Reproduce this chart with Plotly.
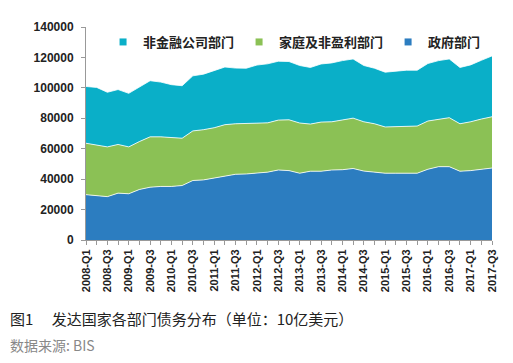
import plotly.graph_objects as go

quarters = [f"{y}-Q{q}" for y in range(2008, 2018) for q in range(1, 5)][:39]

gov = [29800, 29100, 28500, 30800, 30400, 33200, 34700, 35200, 35200, 35800,
       39100, 39500, 40800, 42100, 43200, 43400, 43900, 44600, 46000, 45600,
       43900, 45200, 45200, 46000, 46200, 47000, 45300, 44700, 43900, 43900,
       43900, 43900, 46500, 48200, 48200, 45200, 45600, 46500, 47300]
green_cum = [63600, 62500, 61200, 62800, 61200, 64700, 67800, 67800, 67300, 66900,
             71700, 72500, 73800, 75800, 76400, 76400, 76800, 77000, 78800, 79000,
             76900, 76200, 77500, 77700, 78800, 80100, 77700, 76400, 74300, 74500,
             74900, 74900, 78200, 79500, 80400, 76400, 77700, 79500, 81000]
top_cum = [100900, 100300, 97100, 98900, 96400, 100300, 104700, 103800, 102100, 101400,
           107900, 109000, 111300, 113700, 113000, 112900, 115000, 115800, 117500, 117300,
           114700, 113400, 115700, 116400, 117900, 119000, 114700, 112900, 110300, 111000,
           111600, 111600, 116000, 117900, 119000, 113400, 115100, 118100, 121000]
household = [g - v for g, v in zip(green_cum, gov)]
corporate = [t - g for t, g in zip(top_cum, green_cum)]

names = ["政府部门", "家庭及非盈利部门", "非金融公司部门"]
colors = ["#2C7DC0", "#8BC155", "#0AAFC8"]
series = [gov, household, corporate]

tick_vals = quarters
tick_text = [q if i % 2 == 0 else "" for i, q in enumerate(quarters)]
y_ticks = [0, 20000, 40000, 60000, 80000, 100000, 120000, 140000]

fig = go.Figure()
for name, col, vals in zip(names, colors, series):
    fig.add_trace(go.Scatter(
        x=quarters, y=vals, stackgroup="one", mode="lines",
        line=dict(color="rgba(255,255,255,0.8)", width=1),
        fillcolor=col, showlegend=False, hoverinfo="skip"))
for name, col in zip(names, colors):
    fig.add_trace(go.Scatter(
        x=[None], y=[None], mode="markers", name=name,
        marker=dict(symbol="square", size=7, color=col)))

# page has an 8px body margin, so the figure is laid out 8px smaller
fig.update_layout(
    width=505, height=355,
    margin=dict(l=78, r=21, t=17, b=123),
    paper_bgcolor="white", plot_bgcolor="white",
    font=dict(family="Liberation Sans, Arial, sans-serif", color="#222"),
    legend=dict(orientation="h", x=0.042, y=1.0, xanchor="left", yanchor="top",
                traceorder="reversed", bgcolor="rgba(0,0,0,0)",
                font=dict(family="Noto Sans CJK SC", size=13, color="#222", weight="bold"),
                itemwidth=30),
    xaxis=dict(type="category", range=[0, 38], tickmode="array",
               tickvals=tick_vals, ticktext=tick_text, tickangle=-90,
               showgrid=False, showline=True, linecolor="#999", linewidth=1,
               ticks="outside", ticklen=4, tickcolor="#999",
               tickfont=dict(size=11, weight="bold", color="#222")),
    yaxis=dict(range=[0, 140000], tickvals=y_ticks, tickformat="d", showgrid=False,
               showline=True, linecolor="#999", linewidth=1,
               ticks="outside", ticklen=4, tickcolor="#999", ticklabelstandoff=5,
               tickfont=dict(size=12, weight="bold", color="#222")),
    annotations=[
        dict(text="图1　 发达国家各部门债务分布（单位：10亿美元）", xref="paper", yref="paper",
             x=-78/406, y=-(319-240)/215, xanchor="left", yanchor="middle", showarrow=False,
             font=dict(family="Noto Sans CJK SC", size=15, color="#222")),
        dict(text="数据来源: BIS", xref="paper", yref="paper",
             x=-78/406, y=-(346-240)/215, xanchor="left", yanchor="middle", showarrow=False,
             font=dict(family="Noto Sans CJK SC", size=14, color="#888")),
    ],
)

fig.write_html("out.html")
